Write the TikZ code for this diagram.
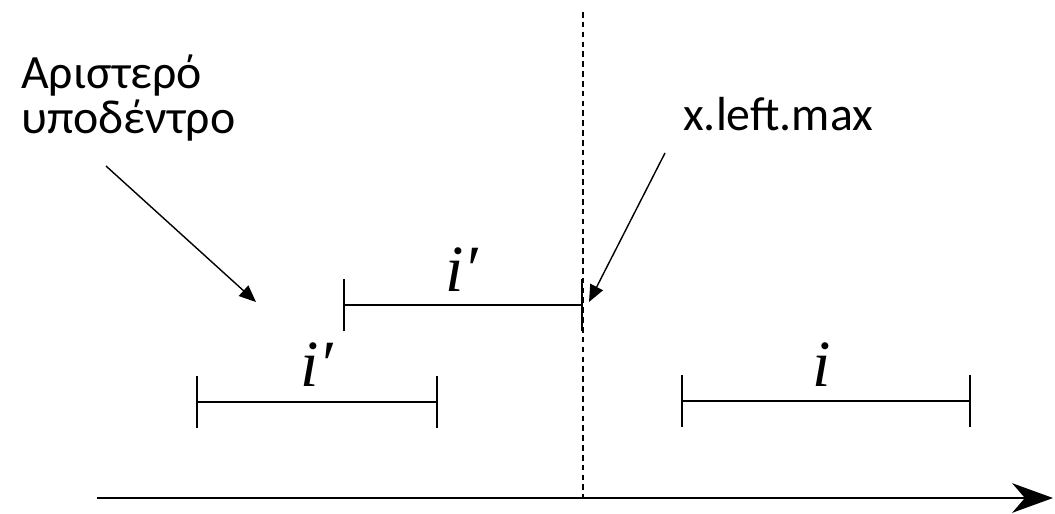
\documentclass[tikz,border=0pt]{standalone}
\usepackage{fontspec}
\setmainfont{Carlito}
\newfontfamily\timesf{Liberation Serif}
\usetikzlibrary{arrows.meta}

\tikzset{
  axisline/.style={line width=1.8pt, -{Stealth[length=29pt, width=21pt, inset=9pt]}},
  splitline/.style={line width=1.3pt, dash pattern=on 4pt off 3pt},
  interval/.style={line width=1.5pt, {Bar[width=37pt]}-{Bar[width=37pt]}},
  pointer/.style={line width=1pt, -{Triangle[length=12pt, width=10pt]}},
  ilabel/.style={inner sep=0pt, font=\timesf\itshape\fontsize{47}{50}\selectfont},
  note/.style={inner sep=0pt, font=\fontsize{34}{32}\selectfont}
}

\begin{document}
\begin{tikzpicture}[x=0.025cm, y=-0.025cm]
  \useasboundingbox (0,0) rectangle (1055,514);

  % Axis and dashed split
  \coordinate (axisL) at (97,498);
  \coordinate (axisR) at (1053,498);
  \draw[axisline] (axisL) -- (axisR);
  \coordinate (splitT) at (583,12);
  \coordinate (splitB) at (583,498);
  \draw[splitline] (splitT) -- (splitB);

  % Intervals
  \coordinate (upL) at (343,305);
  \coordinate (upR) at (583,305);
  \draw[interval] (upL) -- (upR);
  \node[ilabel] (upI) at (462,270) {i′};

  \coordinate (loL) at (196,402);
  \coordinate (loR) at (438,402);
  \draw[interval] (loL) -- (loR);
  \node[ilabel] (loI) at (317,365) {i′};

  \coordinate (rtL) at (681,401);
  \coordinate (rtR) at (971,401);
  \draw[interval] (rtL) -- (rtR);
  \node[ilabel] (rtI) at (822,365) {i};

  % Notes and pointers
  \node[note, anchor=north west, align=left] (subtree) at (21,55) {Αριστερό\\υποδέντρο};
  \node[note, anchor=base west] (leftmax) at (683,130) {x.left.max};

  \coordinate (subFrom) at (106,166);
  \coordinate (subTo) at (256,302);
  \draw[pointer] (subFrom) -- (subTo);

  \coordinate (maxFrom) at (665,153);
  \coordinate (maxTo) at (589,302);
  \draw[pointer] (maxFrom) -- (maxTo);
\end{tikzpicture}
\end{document}
